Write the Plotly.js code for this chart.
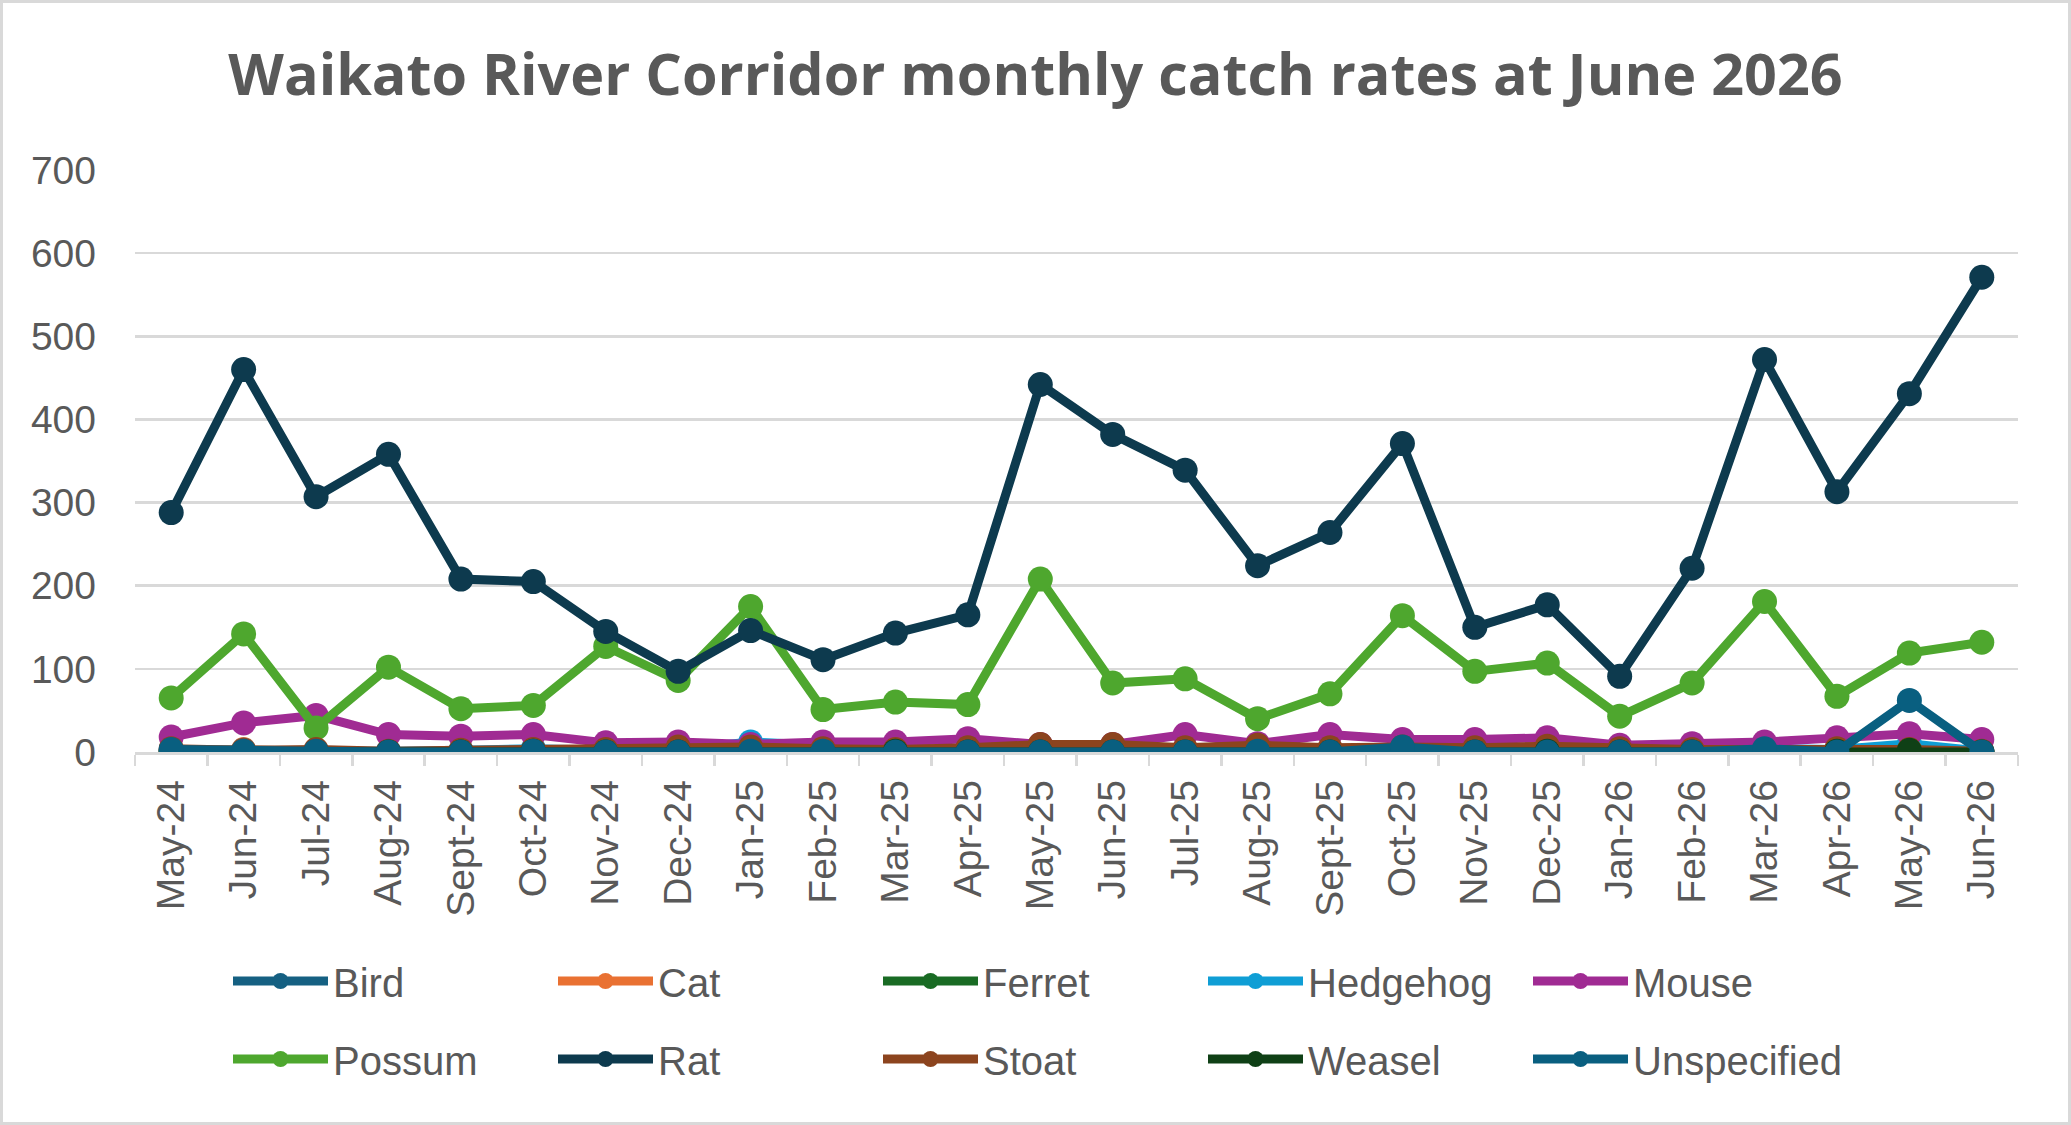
<!DOCTYPE html>
<html>
<head>
<meta charset="utf-8">
<script src="https://cdn.plot.ly/plotly-3.0.1.min.js"></script>
<style>
  html, body { margin: 0; padding: 0; background: #fff; }
  #wrap { position: relative; width: 2071px; height: 1125px; }
  #chart { width: 2071px; height: 1125px; }
  #frame { position: absolute; left: 0; top: 0; width: 2071px; height: 1125px; box-sizing: border-box; border: 3px solid #d9d9d9; pointer-events: none; }
</style>
</head>
<body>
<div id="wrap"><div id="chart"></div><div id="frame"></div></div>
<script>
const months = ["May-24","Jun-24","Jul-24","Aug-24","Sept-24","Oct-24","Nov-24","Dec-24","Jan-25","Feb-25","Mar-25","Apr-25","May-25","Jun-25","Jul-25","Aug-25","Sept-25","Oct-25","Nov-25","Dec-25","Jan-26","Feb-26","Mar-26","Apr-26","May-26","Jun-26"];

const bird        = [2,0,1,0,0,1,0,0,1,0,0,0,0,0,1,0,0,0,0,0,0,0,0,0,0,0];
const cat         = [1,3,0,0,0,0,0,0,0,0,0,0,1,0,0,0,0,0,0,0,0,0,0,0,0,0];
const ferret      = [0,1,0,0,0,2,0,0,1,1,0,0,0,0,0,0,0,1,0,0,0,0,0,0,0,0];
const hedgehog    = [3,2,1,1,2,4,2,3,12,7,4,2,2,1,2,2,1,2,2,3,5,2,4,3,10,1];
const mouse       = [18,35,44,21,19,21,11,12,9,12,12,16,9,9,21,10,21,15,15,17,8,10,12,17,22,15];
const possum      = [65,142,29,102,52,56,127,86,175,51,60,57,208,83,88,40,70,164,97,107,43,83,181,67,119,132];
const rat         = [288,460,307,358,208,205,145,97,146,111,143,165,442,382,339,224,264,371,150,177,91,221,472,313,431,571];
const stoat       = [4,2,3,1,2,3,3,6,6,4,3,5,9,9,5,8,5,6,5,7,4,3,3,4,3,1];
const weasel      = [0,0,0,0,0,1,0,0,0,0,1,0,0,0,0,0,0,0,0,1,0,0,0,1,2,0];
const unspecified = [3,1,1,0,0,1,0,0,1,1,0,0,0,0,0,1,0,6,0,0,0,0,4,0,62,0];

const seriesNames = ["Bird","Cat","Ferret","Hedgehog","Mouse","Possum","Rat","Stoat","Weasel","Unspecified"];
const seriesData  = [bird,cat,ferret,hedgehog,mouse,possum,rat,stoat,weasel,unspecified];
const seriesColors = ["#156082","#E97132","#196B24","#0F9ED5","#A02B93","#4EA72E","#0D3A4E","#8C441E","#0F4016","#095F80"];

const traces = seriesNames.map((n, i) => ({
  type: "scatter",
  mode: "lines+markers",
  name: n,
  x: months,
  y: seriesData[i],
  line: { color: seriesColors[i], width: 9 },
  marker: { color: seriesColors[i], size: 25 },
  legend: i < 5 ? "legend" : "legend2",
  hoverinfo: "x+y+name"
}));

const legendCommon = {
  orientation: "h",
  xanchor: "left",
  yanchor: "middle",
  entrywidth: 215,
  entrywidthmode: "pixels",
  itemwidth: 95,
  font: { family: "Liberation Sans, Arial, sans-serif", size: 40, color: "#595959" },
  bgcolor: "rgba(0,0,0,0)",
  traceorder: "normal"
};

const layout = {
  width: 2071,
  height: 1125,
  paper_bgcolor: "#ffffff",
  plot_bgcolor: "#ffffff",
  margin: { l: 135, r: 53, t: 170, b: 373, pad: 0 },
  title: {
    text: "Waikato River Corridor monthly catch rates at June 2026",
    font: { family: "Open Sans, sans-serif", size: 57.5, color: "#595959", weight: 700 },
    x: 0.5, xanchor: "center", xref: "container",
    y: 1 - 75/1125, yanchor: "middle", yref: "container"
  },
  showlegend: true,
  xaxis: {
    type: "category",
    range: [-0.5, 25.5],
    autorange: false,
    showgrid: false,
    showline: true,
    linecolor: "#d9d9d9",
    linewidth: 2.5,
    ticks: "outside",
    tickson: "boundaries",
    ticklen: 11,
    tickwidth: 2.5,
    tickcolor: "#d9d9d9",
    tickangle: -90,
    ticklabelstandoff: 10,
    tickfont: { family: "Liberation Sans, Arial, sans-serif", size: 39, color: "#595959" },
    zeroline: false,
    fixedrange: true
  },
  yaxis: {
    range: [0, 700],
    autorange: false,
    dtick: 100,
    tick0: 0,
    showgrid: true,
    gridcolor: "#d9d9d9",
    gridwidth: 2.5,
    showline: false,
    zeroline: false,
    ticks: "",
    ticklabelstandoff: 38,
    tickfont: { family: "Liberation Sans, Arial, sans-serif", size: 39, color: "#595959" },
    fixedrange: true
  },
  legend: Object.assign({}, legendCommon, { x: (228 - 135) / 1883, y: (752 - 981) / 582 }),
  legend2: Object.assign({}, legendCommon, { x: (228 - 135) / 1883, y: (752 - 1059) / 582 })
};

Plotly.newPlot("chart", traces, layout, { displayModeBar: false, responsive: false, staticPlot: true });
</script>
</body>
</html>
